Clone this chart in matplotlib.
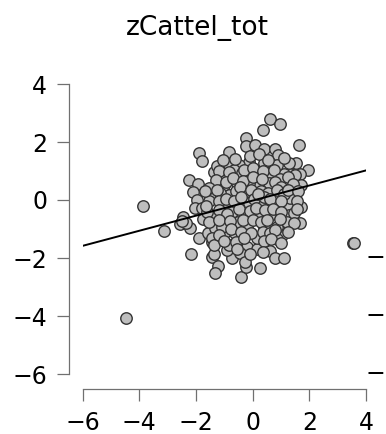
import numpy as np
import matplotlib
matplotlib.use('Agg')
import matplotlib.pyplot as plt
from matplotlib import transforms

# scatter points (x, y)
x_vals = [
    -3.88, -4.46, -3.14, 3.53, 3.58, -2.16,
    0.62, 0.95, 0.36, -0.24, -0.25, 0.09, 1.62, -1.89, -1.78, -0.85, 0.41, 0.80, 0.89,
    -2.26, -1.94, -2.10, -1.98, -2.02, -2.46, -2.58, -2.20, -1.91, -1.50, -1.38, -1.26,
    -1.59, -1.44, -1.44, -1.22, -1.34, -1.38, -1.76,
    -0.40, -0.24, 0.27, -0.20, 0.15, -0.73, -0.91, 0.62, 0.80, 1.12, 1.04, 0.86,
    1.68, 1.72, 1.48, 1.95, 1.68, 1.54, 1.33,
    1.27, 0.39, -0.14, 0.14, 0.62, 1.10, 1.51, 0.57, 1.20, 1.69, 0.14, -0.14, 0.85,
    -0.85, -0.49, -0.96, -0.67, -0.38, -0.55, -1.02, -0.85, -0.26, -1.14,
    -1.55, -1.79, -0.96, -1.44, -1.32, -0.96, -1.42, -1.38, -0.85, -0.61, -0.43, -0.26,
    -1.08, -0.55, -0.26, -0.73, -0.26,
    0.15, 1.27, 1.27, 0.86, 0.39, -0.20, 0.15, 0.62, -0.14, 0.27, 0.80, 1.21, 1.33,
    -1.05, -0.62, -0.10, 0.22, 0.55, 1.12,
    -1.20, -0.85, -0.30, 0.02, 0.35, 0.75, 0.95, 1.25,
    -1.30, -0.95, -0.70, -0.35, 0.00, 0.32, 0.80, 1.00, 1.42,
    -1.55, -1.25, -0.60, -0.45, -0.05, 0.30, 0.55, 0.85, 1.10, 1.25, 1.60,
    -1.20, -0.95, -0.65, -0.42, 0.05, 0.40, 0.60, 1.00, 1.55, 0.20,
    -1.60, -1.20, -0.90, -0.50, -0.10, 0.10, 0.45, 0.70, 1.00, 1.45, 1.55,
    -1.55, -1.20, -0.80, -0.35, 0.00, 0.30, 0.52, 0.95, 1.45,
    -1.20, -0.75, -0.40, -0.05, 0.35, 0.60, 0.80, 1.25,
    -1.00, -0.60, -0.30, 0.40, 0.65, 1.00,
    -0.55, -0.10, 0.35,
    -2.35, -2.50, -1.70, -1.65,
]
y_vals = [
    -0.20, -4.06, -1.06, -1.49, -1.50, -1.87,
    2.78, 2.61, 2.41, 2.15, 1.87, 1.89, 1.89, 1.61, 1.36, 1.67, 1.77, 1.76, 1.55,
    0.68, 0.54, 0.26, 0.00, -0.29, -0.59, -0.83, -0.97, -1.30, 0.10, 0.95, 1.18,
    -1.15, -1.44, -1.95, -2.26, -2.53, -1.87, -0.66,
    -2.67, -2.30, -2.36, -1.61, -1.70, -1.99, -1.72, -1.75, -2.01, -1.99, -1.21, -1.36,
    -0.78, -0.23, 0.17, 1.03, 0.90, 1.29, 0.89,
    1.27, 1.29, 1.32, 0.93, 0.93, 0.90, 0.86, 0.57, 0.58, 0.52, 0.52, 0.58, 1.20,
    1.20, 1.20, 0.86, 1.03, 0.92, 0.57, 0.52, 0.17, 0.29, 0.23,
    -0.05, -0.29, -0.23, -0.57, -0.98, -1.09, -1.30, -1.55, -1.55, -1.15, -1.84, -2.13,
    -0.92, -0.75, -0.52, -0.40, -0.06,
    -1.32, -0.17, -0.52, -0.92, -0.92, -0.92, -0.52, -0.52, -0.11, -0.17, -0.17, -0.75, 0.06,
    1.38, 1.42, 1.50, 1.60, 1.38, 1.45,
    1.00, 0.95, 1.05, 1.12, 1.00, 1.05, 0.72, 0.78,
    0.70, 0.62, 0.75, 0.65, 0.78, 0.72, 0.62, 0.45, 0.55,
    0.40, 0.35, 0.30, 0.45, 0.35, 0.32, 0.25, 0.35, 0.20, 0.35, 0.30,
    -0.05, 0.05, -0.02, 0.12, 0.05, 0.10, 0.02, -0.05, -0.05, 0.20,
    -0.40, -0.35, -0.50, -0.30, -0.38, -0.28, -0.35, -0.30, -0.40, -0.45, -0.30,
    -0.75, -0.70, -0.72, -0.68, -0.70, -0.75, -0.70, -0.65, -0.80,
    -1.20, -1.00, -1.10, -1.15, -1.10, -1.15, -1.05, -1.10,
    -1.40, -1.45, -1.30, -1.40, -1.35, -1.50,
    -1.70, -1.85, -1.80,
    -0.78, -0.72, 0.30, -0.20,
]

# regression line as drawn in the picture
fit_slope = 0.26
fit_intercept = -0.02

x_ticks = [-6, -4, -2, 0, 2, 4]
y_ticks = [-6, -4, -2, 0, 2, 4]
title = 'zCattel_tot'

fig = plt.figure(figsize=(3.86, 4.34), dpi=100)
ax = fig.add_axes([82.7 / 386, 60 / 434, 283.3 / 386, 290 / 434])

ax.scatter(x_vals, y_vals, s=68, c='#bebebe', edgecolors='#333333',
           linewidths=1.0, zorder=2, clip_on=False)

line_x = np.array([x_ticks[0], x_ticks[-1]])
ax.plot(line_x, fit_slope * line_x + fit_intercept, color='black', lw=1.4, zorder=3)

ax.set_xlim(x_ticks[0], x_ticks[-1])
ax.set_ylim(y_ticks[0], y_ticks[-1])
ax.set_xticks(x_ticks)
ax.set_yticks(y_ticks)

for side in ['top', 'right']:
    ax.spines[side].set_visible(False)
ax.spines['left'].set_position(('outward', 10))
ax.spines['bottom'].set_position(('outward', 11))
for side in ['left', 'bottom']:
    ax.spines[side].set_color('#707070')
    ax.spines[side].set_linewidth(0.9)

ax.tick_params(axis='both', length=8.6, width=0.9, color='#707070',
               labelsize=17, pad=7)
ax.set_facecolor('none')

fig.text(197 / 386, 1 - 35 / 434, title, fontsize=19, ha='center', va='baseline')

# the minus signs of the neighbouring panel's tick labels at the right edge
trans = transforms.blended_transform_factory(fig.transFigure, ax.transData)
for v in [-2, -4, -6]:
    fig.text(0.999, v, '\u2212', fontsize=17, ha='right', va='center',
             transform=trans)

fig.savefig('out.png', dpi=100)
